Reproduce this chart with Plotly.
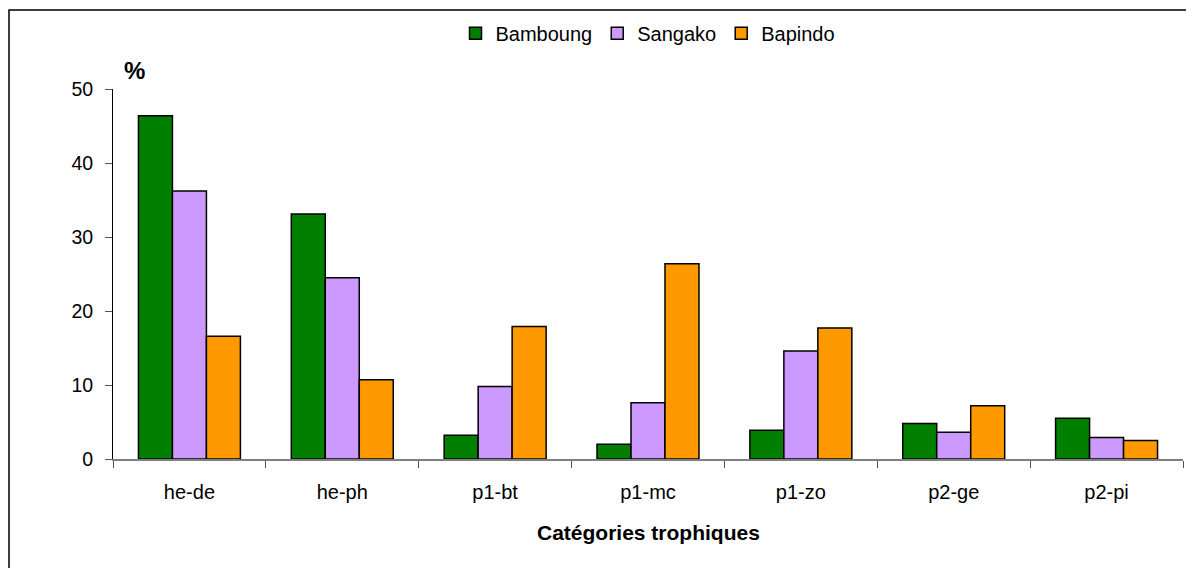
import plotly.graph_objects as go

categories = ["he-de", "he-ph", "p1-bt", "p1-mc", "p1-zo", "p2-ge", "p2-pi"]
bamboung = [46.4, 33.1, 3.2, 2.0, 3.9, 4.8, 5.5]
sangako = [36.2, 24.5, 9.8, 7.6, 14.6, 3.6, 2.9]
bapindo = [16.6, 10.7, 17.9, 26.4, 17.7, 7.2, 2.5]

series = [("Bamboung", bamboung, "#007F00"),
          ("Sangako", sangako, "#CC99FF"),
          ("Bapindo", bapindo, "#FF9900")]

FONT = "Liberation Sans, Arial, sans-serif"

fig = go.Figure()
for name, vals, col in series:
    fig.add_trace(go.Bar(x=categories, y=vals, name=name,
                         marker=dict(color=col, line=dict(color="black", width=1.5))))

# page body has an 8px margin, so the figure is sized/offset to compensate
fig.update_layout(
    width=1186, height=560,
    margin=dict(l=105, r=11, t=81, b=108.7, autoexpand=False),
    paper_bgcolor="white", plot_bgcolor="white",
    barmode="group", bargap=0.333, bargroupgap=0,
    font=dict(family=FONT, size=20, color="black"),
    legend=dict(orientation="h", x=0.5, xanchor="center", y=1.151, yanchor="middle",
                font=dict(size=20), itemwidth=30, tracegroupgap=0, traceorder="normal"),
    showlegend=True,
)
fig.update_yaxes(range=[0, 50], dtick=10, showgrid=False, zeroline=False,
                 showline=True, linecolor="black", linewidth=1,
                 ticks="outside", ticklen=7, tickcolor="#555555", tickwidth=1,
                 ticklabelstandoff=8, tickfont=dict(size=19.5), automargin=False)
fig.update_xaxes(showgrid=False, showline=True, linecolor="#808080", linewidth=2,
                 ticks="outside", tickson="boundaries", ticklen=7, tickcolor="#555555",
                 tickwidth=1, ticklabelstandoff=14, tickfont=dict(size=20), automargin=False)

fig.add_annotation(text="<b>%</b>", xref="paper", yref="paper", x=0.0205, y=1.051,
                   showarrow=False, font=dict(size=24), xanchor="center", yanchor="middle")
fig.add_annotation(text="<b>Catégories trophiques</b>", xref="paper", yref="paper",
                   x=0.5, y=-0.199, showarrow=False, font=dict(size=21),
                   xanchor="center", yanchor="middle")
fig.add_shape(type="rect", xref="paper", yref="paper",
              x0=-0.0972, x1=1.3, y0=-0.6, y1=1.2134,
              line=dict(color="black", width=1.5), fillcolor="rgba(0,0,0,0)", layer="below")

fig.write_html("out.html")
